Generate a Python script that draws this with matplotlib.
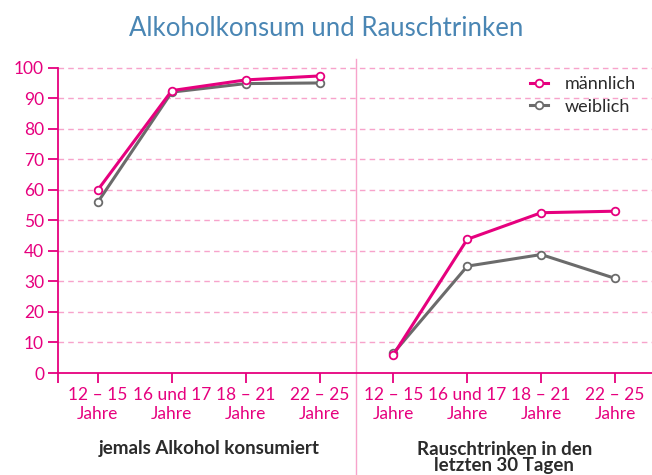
import matplotlib
matplotlib.use("Agg")
import matplotlib.pyplot as plt
import matplotlib.transforms as mtransforms

plt.rcParams['font.family'] = ['Lato', 'DejaVu Sans']

# data
groups = ["12 – 15\nJahre", "16 und 17\nJahre", "18 – 21\nJahre", "22 – 25\nJahre"]
alk_m = [60, 92.5, 96, 97.3]
alk_w = [56, 92, 94.8, 95]
rausch_m = [6, 43.8, 52.5, 53]
rausch_w = [6.5, 35, 38.8, 31]
panel_titles = ["jemals Alkohol konsumiert", "Rauschtrinken in den\nletzten 30 Tagen"]

MAG = "#e6007e"
GREY = "#6b6b6b"
GRID = "#f7a3cb"
TXT = "#2b2b2b"

fig = plt.figure(figsize=(6.52, 4.75), dpi=100)
ax = fig.add_axes([58/652, 1-373/475, 1-58/652, (373-67.7)/475])

x1 = [0, 1, 2, 3]
x2 = [4, 5, 6, 7]
mk = dict(marker="o", markersize=5.5, markerfacecolor="white", markeredgewidth=1.3, lw=2.2)
ax.plot(x1, alk_w, color=GREY, zorder=3, **mk)
ax.plot(x1, alk_m, color=MAG, zorder=4, label="männlich", **mk)
ax.plot(x2, rausch_w, color=GREY, zorder=3, **mk)
ax.plot(x2, rausch_m, color=MAG, zorder=4, **mk)
# legend handle for weiblich
ax.plot([], [], color=GREY, label="weiblich", **mk)

ax.set_xlim(-0.54, 7.5)
ax.set_ylim(0, 100)
ax.set_yticks(range(0, 101, 10))
ax.set_xticks(x1 + x2)
ax.set_xticklabels(groups + groups, color=MAG, fontsize=12.5, linespacing=1.25)
ax.set_xticks([-0.54], minor=True)
ax.tick_params(axis="x", which="both", length=7, width=1.3, color=MAG, pad=3)
ax.tick_params(axis="y", length=7, width=1.3, color=MAG, labelcolor=MAG, labelsize=12.5, pad=3)

for s in ["top", "right"]:
    ax.spines[s].set_visible(False)
for s in ["left", "bottom"]:
    ax.spines[s].set_color(MAG)
    ax.spines[s].set_linewidth(1.3)

for v in range(10, 101, 10):
    ax.axhline(v, color=GRID, lw=1.0, ls=(0, (4, 3)), zorder=1, clip_on=False)

# divider between panels
trans = mtransforms.blended_transform_factory(ax.transData, ax.transAxes)
ax.plot([3.5, 3.5], [1.03, -0.36], color=GRID, lw=1.0, transform=trans, clip_on=False)

# panel labels
ax.text(1.5, -0.248, panel_titles[0], transform=trans, ha="center", va="center",
        fontsize=13.5, fontweight="bold", color=TXT)
ax.text(5.5, -0.277, panel_titles[1], transform=trans, ha="center", va="center",
        fontsize=13.5, fontweight="bold", color=TXT, linespacing=0.95)

leg = ax.legend(loc="upper right", bbox_to_anchor=(1.0, 1.025), frameon=False,
                fontsize=13, handlelength=1.0, handletextpad=0.9, labelspacing=0.35)
for t in leg.get_texts():
    t.set_color(TXT)

fig.text(0.5, 1-28/475, "Alkoholkonsum und Rauschtrinken", ha="center", va="center",
         fontsize=18.5, color="#4a86b4")

fig.savefig("out.png", dpi=100)
